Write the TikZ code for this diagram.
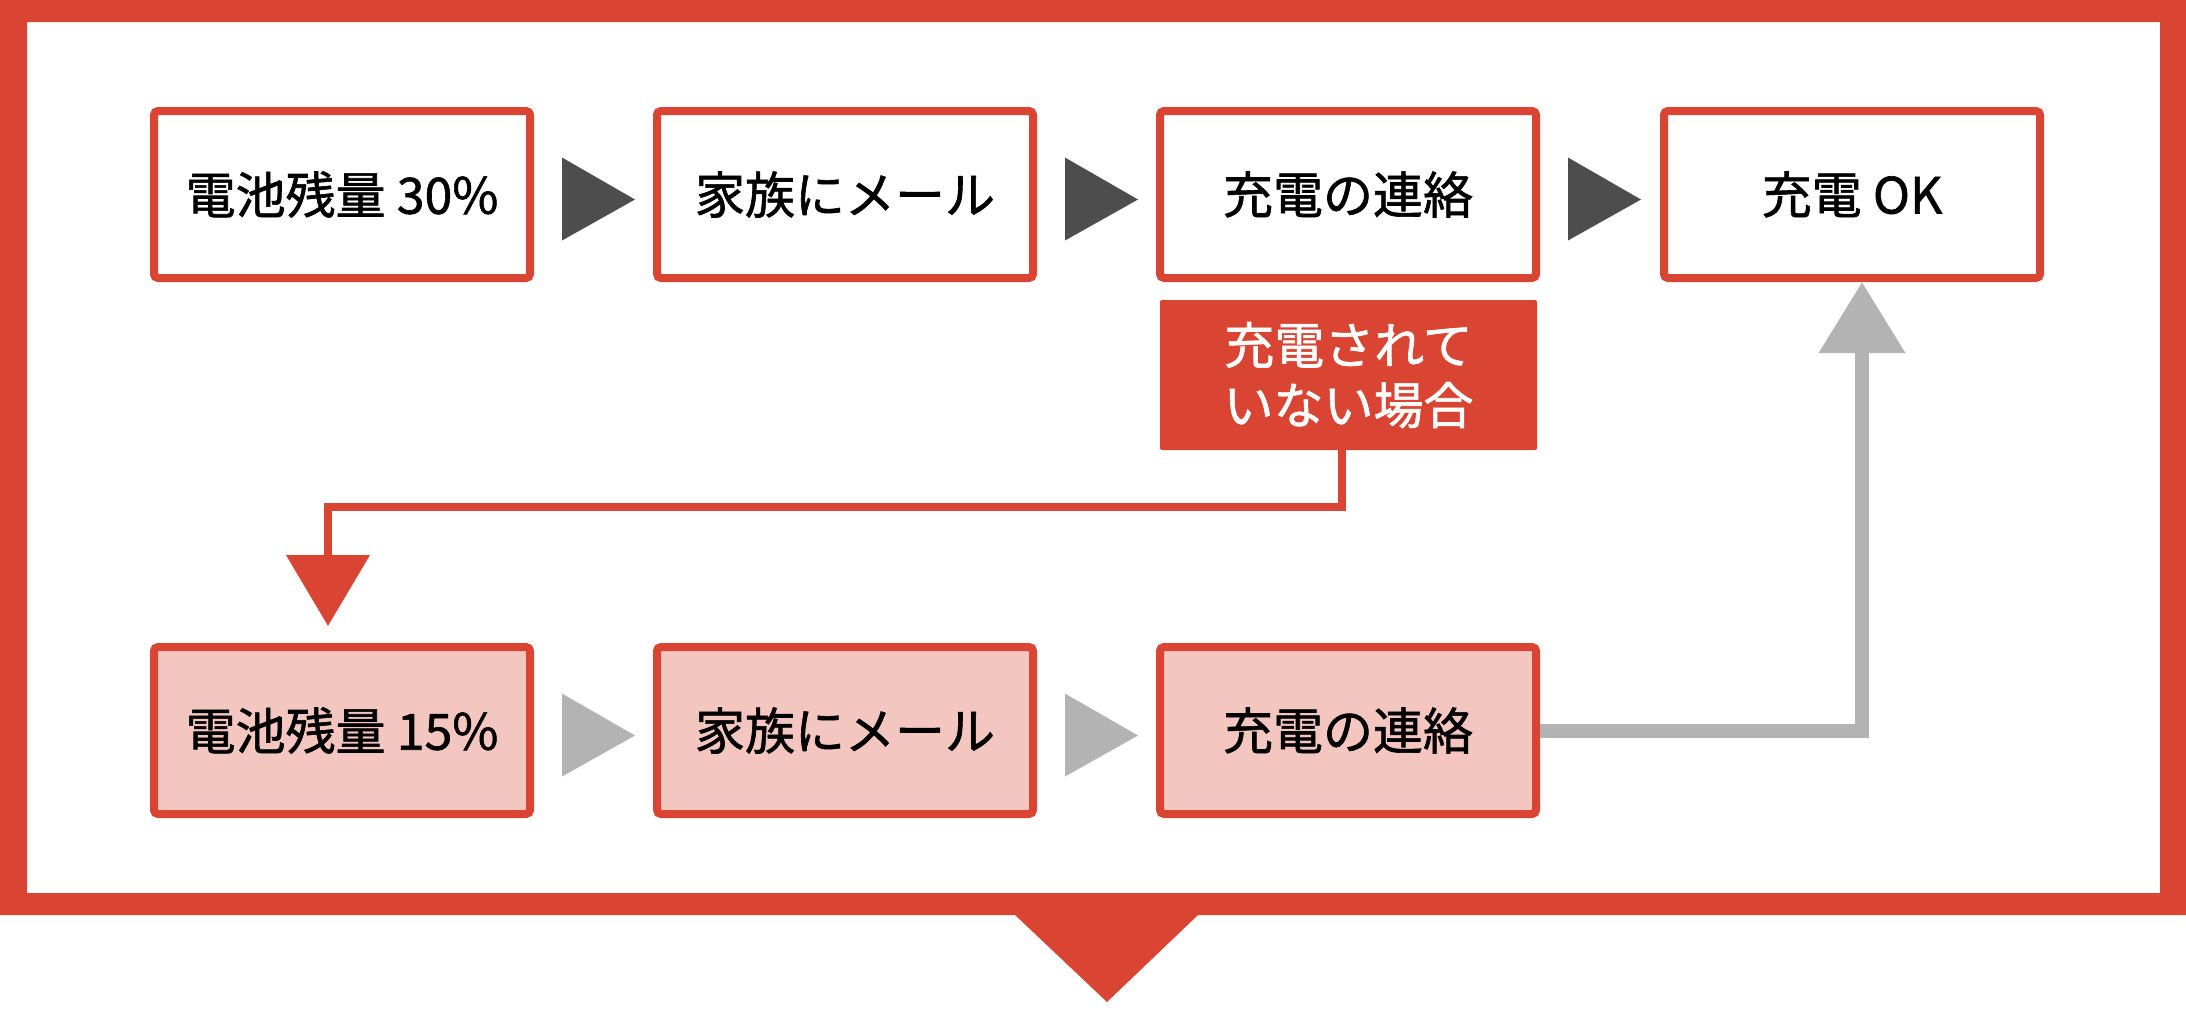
\documentclass[tikz,border=0pt]{standalone}
\usepackage{fontspec}
\setmainfont{Noto Sans CJK JP}[FakeBold=1.2]
\usetikzlibrary{arrows.meta,calc}
\definecolor{frameRed}{HTML}{DA4433}
\definecolor{pinkFill}{HTML}{F3C6C0}
\definecolor{darkTri}{HTML}{4D4D4D}
\definecolor{lightGray}{HTML}{B3B3B3}
\tikzset{
  stepbox/.style={draw=frameRed, line width=4pt, fill=white, rounded corners=2pt,
    minimum width=188pt, minimum height=83.5pt, inner sep=0pt,
    font=\fontsize{25pt}{30pt}\selectfont, text=black},
  pinkbox/.style={stepbox, fill=pinkFill},
  labelbox/.style={fill=frameRed, rounded corners=1pt, minimum width=188.5pt,
    minimum height=75pt, inner sep=0pt, align=center, text=white,
    font=\fontsize{25pt}{30pt}\selectfont},
  arrowtri/.pic={\fill (0,-37) -- (0,46) -- (73,5) -- cycle;},
  redline/.style={draw=frameRed, line width=4pt, -{Triangle[length=35.5pt,width=41pt]}},
  grayline/.style={draw=lightGray, line width=7pt, -{Triangle[length=35.5pt,width=41.5pt]}}
}
\begin{document}
\begin{tikzpicture}[x=0.5pt,y=-0.5pt]
\useasboundingbox (0,0) rectangle (2186,1013);
% outer frame
\fill[frameRed,even odd rule] (0,0) rectangle (2186,915) (27,22) rectangle (2160,893);
\fill[frameRed] (1015,905) -- (1198,905) -- (1198,915) -- (1107,1002) -- (1015,915) -- cycle;

% row 1
\node[stepbox] (a1) at (342,194.5) {電池残量 30\%};
\node[stepbox] (a2) at (845,194.5) {家族にメール};
\node[stepbox] (a3) at (1348,194.5) {充電の連絡};
\node[stepbox] (ok) at (1852,194.5) {充電 OK};

% row 2
\node[pinkbox] (b1) at (342,730.5) {電池残量 15\%};
\node[pinkbox] (b2) at (845,730.5) {家族にメール};
\node[pinkbox] (b3) at (1348,730.5) {充電の連絡};

% label
\node[labelbox] (lbl) at (1348.5,375) {充電されて\\いない場合};

% triangles
\pic[color=darkTri] at ($(a1.east)+(28,0)$) {arrowtri};
\pic[color=darkTri] at ($(a2.east)+(28,0)$) {arrowtri};
\pic[color=darkTri] at ($(a3.east)+(28,0)$) {arrowtri};
\pic[color=lightGray] at ($(b1.east)+(28,0)$) {arrowtri};
\pic[color=lightGray] at ($(b2.east)+(28,0)$) {arrowtri};

% red connector
\coordinate (bendR) at (1342,507);
\coordinate (tipR) at (328,626);
\draw[redline] (lbl.south -| bendR) -- (bendR) -| (tipR);

% gray connector
\draw[grayline] (b3.east) -| ([xshift=5pt]ok.south);
\end{tikzpicture}
\end{document}
